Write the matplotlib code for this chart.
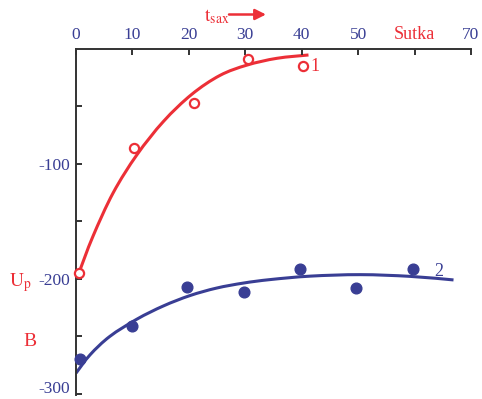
import numpy as np
import matplotlib.pyplot as plt
from matplotlib.path import Path
from matplotlib.patches import PathPatch
from matplotlib.transforms import ScaledTranslation

plt.rcParams['font.family'] = ['Liberation Serif', 'DejaVu Serif']
plt.rcParams['mathtext.fontset'] = 'stix'

RED = '#ec2f37'
BLUE = '#393e94'

# measured points
red_x = [0.6, 10.3, 20.9, 30.5, 40.2]
red_y = [-195, -86.5, -47, -8.7, -14.5]
blue_x = [0.7, 9.9, 19.6, 29.7, 39.7, 49.6, 59.8]
blue_y = [-270, -241, -207, -211.5, -191.5, -207.5, -191]

# fitted curves
red_fit_x = [0.5, 3.0, 6.6, 10.8, 15.5, 20.5, 25.5, 30.3, 35.6, 41.2]
red_fit_y = [-195, -163, -125, -92, -63, -39.5, -23, -14, -8.1, -5.2]
blue_fit_x = [0.0, 2.5, 6.0, 10.8, 15.5, 20.2, 24.9, 29.7, 34.4, 41.5,
              50.4, 59.2, 66.9]
blue_fit_y = [-282, -266, -250, -235, -223.5, -214.5, -208, -203.6,
              -200.6, -197.6, -196.3, -197.8, -200.9]

x_ticks = [0, 10, 20, 30, 40, 50, 60, 70]
x_labels = ['0', '10', '20', '30', '40', '50', 'Sutka', '70']
y_major = [-100, -200, -300]
y_minor = [-50, -150, -250]
y_labels = ['-100', '-200', '-300']


def smooth_line(ax, xs, ys, **kw):
    # Catmull-Rom through the read points, drawn as cubic Bezier path
    p = np.column_stack([xs, ys]).astype(float)
    n = len(p)
    verts = [p[0]]
    codes = [Path.MOVETO]
    for i in range(n - 1):
        p0 = p[i - 1] if i > 0 else p[i]
        p3 = p[i + 2] if i + 2 < n else p[i + 1]
        verts += [p[i] + (p[i + 1] - p0) / 6, p[i + 1] - (p3 - p[i]) / 6, p[i + 1]]
        codes += [Path.CURVE4] * 3
    ax.add_patch(PathPatch(Path(verts, codes), fill=False, **kw))


fig = plt.figure(figsize=(4.82, 3.99), dpi=100)
ax = fig.add_axes([76 / 482, 4 / 399, 395 / 482, 346 / 399])

smooth_line(ax, red_fit_x, red_fit_y, edgecolor=RED, lw=2.2, capstyle='butt')
smooth_line(ax, blue_fit_x, blue_fit_y, edgecolor=BLUE, lw=2.2, capstyle='butt')
ax.plot(red_x, red_y, 'o', ms=6.6, mfc='white', mec=RED, mew=1.6,
        clip_on=False, zorder=3)
ax.plot(blue_x, blue_y, 'o', ms=7.7, color=BLUE, clip_on=False, zorder=3)

ax.set_xlim(0, 70)
ax.set_ylim(-301, 0)

for s in ['right', 'bottom']:
    ax.spines[s].set_visible(False)
for s in ['left', 'top']:
    ax.spines[s].set_linewidth(1.4)
    ax.spines[s].set_color('#333333')

ax.xaxis.tick_top()
ax.set_xticks(x_ticks)
ax.set_xticklabels(x_labels)
ax.set_yticks(y_major)
ax.set_yticklabels(y_labels)
ax.set_yticks(y_minor, minor=True)
ax.tick_params(axis='both', which='both', direction='in', length=4,
               width=1.4, color='#333333', labelsize=12.5,
               labelcolor=BLUE, pad=4)
ax.tick_params(axis='y', which='both', left=True, right=False)
ax.tick_params(axis='x', which='both', top=True, bottom=False)
ax.get_xticklabels()[6].set_color(RED)
ax.get_xticklabels()[6].set_fontsize(13)
lab = ax.get_yticklabels()[2]
lab.set_transform(lab.get_transform() + ScaledTranslation(0, 7 / 100, fig.dpi_scale_trans))

ax.text(41.5, -15, '1', color=RED, fontsize=13, va='center', ha='left')
ax.text(63.5, -201, '2', color=BLUE, fontsize=13, va='bottom', ha='left')

fig.text(20 / 482, 1 - 283 / 399, r'$\mathrm{U}_\mathrm{p}$', color=RED,
         fontsize=14, ha='center', va='center')
fig.text(30 / 482, 1 - 342 / 399, 'B', color=RED, fontsize=14,
         ha='center', va='center')
fig.text(217 / 482, 1 - 17 / 399, r'$\mathrm{t}_\mathrm{sax}$', color=RED,
         fontsize=14, ha='center', va='center')
ax.annotate('', xy=(266 / 482, 1 - 14.5 / 399), xytext=(229 / 482, 1 - 14.5 / 399),
            xycoords='figure fraction', textcoords='figure fraction',
            arrowprops=dict(arrowstyle='-|>', color=RED, lw=1.8,
                            mutation_scale=16, shrinkA=0, shrinkB=0))

fig.savefig('out.png', dpi=100)
